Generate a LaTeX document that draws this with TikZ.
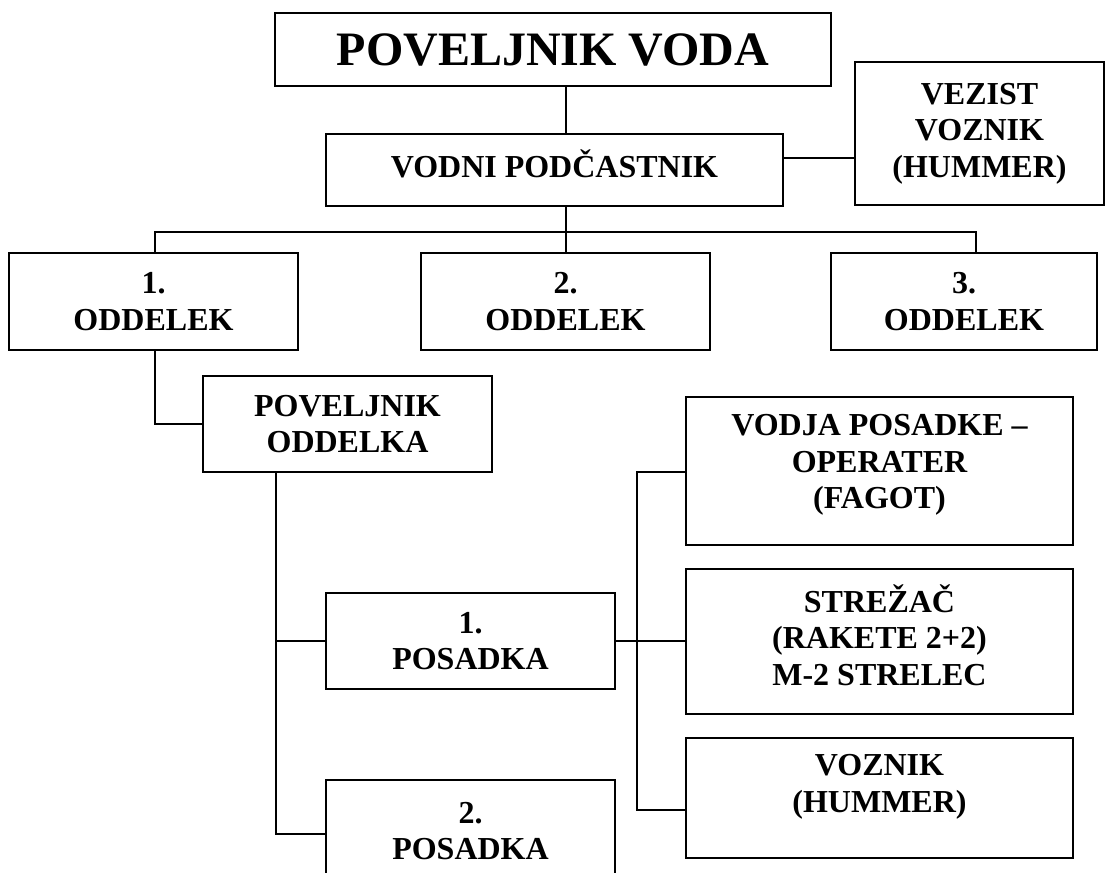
\documentclass[tikz,border=0pt]{standalone}
\usepackage{fontspec}
\setmainfont{Liberation Serif}
\begin{document}
\begin{tikzpicture}[x=1pt,y=-1pt,
  box/.style={draw, line width=1.9pt, inner sep=0pt, align=center,
    font=\bfseries\fontsize{32}{36.5}\selectfont},
  txt/.style={inner sep=0pt, align=center, font=\bfseries\fontsize{32}{36.5}\selectfont},
  conn/.style={line width=1.9pt}]
\useasboundingbox (0,0) rectangle (1109,873);
\clip (0,0) rectangle (1109,873);
% boxes
\node[box, minimum width=556pt, minimum height=73pt,
  font=\bfseries\fontsize{48}{54}\selectfont] (top) at (553,49.5) {POVELJNIK VODA};
\node[box, minimum width=457pt, minimum height=72pt] (vodni) at (554.5,170) {};
\node[txt] (vodnitxt) at (554.5,164) {VODNI PODČASTNIK};
\node[box, minimum width=249pt, minimum height=143pt] (vezist) at (979.5,133.5) {VEZIST\\VOZNIK\\(HUMMER)};
\node[box, minimum width=289pt, minimum height=97pt] (odd1) at (153.5,301.5) {1.\\ODDELEK};
\node[box, minimum width=289pt, minimum height=97pt] (odd2) at (565.5,301.5) {2.\\ODDELEK};
\node[box, minimum width=266pt, minimum height=97pt] (odd3) at (964,301.5) {3.\\ODDELEK};
\node[box, minimum width=289pt, minimum height=96pt] (povodd) at (347.5,424) {POVELJNIK\\ODDELKA};
\node[box, minimum width=289pt, minimum height=96pt] (pos1) at (470.5,641) {1.\\POSADKA};
\node[box, minimum width=289pt, minimum height=96pt] (pos2) at (470.5,828) {};
\node[txt] (pos2txt) at (470.5,831) {2.\\POSADKA};
\node[box, minimum width=387pt, minimum height=148pt] (vodja) at (879.5,471) {};
\node[txt] (vodjatxt) at (879.5,465) {VODJA POSADKE –\\OPERATER\\(FAGOT)};
\node[box, minimum width=387pt, minimum height=145pt] (strezac) at (879.5,641.5) {};
\node[txt] (strezactxt) at (879.5,635) {STREŽAČ\\(RAKETE 2+2)\\M-2 STRELEC};
\node[box, minimum width=387pt, minimum height=120pt] (voznik) at (879.5,798) {};
\node[txt] (vozniktxt) at (879.5,787) {VOZNIK\\(HUMMER)};
% connector helper points
\coordinate (sp) at (566,232);
\coordinate (bl) at (155,232);
\coordinate (br) at (976,232);
\coordinate (vl) at (820,158);
\coordinate (k1) at (155,424);
\coordinate (k2) at (276,834);
\coordinate (k3) at (276,641);
\coordinate (cb1) at (637,472);
\coordinate (cb2) at (637,810);
% connectors
\draw[conn] (top.south -| sp) -- (vodni.north -| sp);
\draw[conn] (vodni.south -| sp) -- (sp);
\draw[conn] (odd1.north -| bl) -- (bl) -- (br) -- (odd3.north -| br);
\draw[conn] (sp) -- (odd2.north -| sp);
\draw[conn] (vodni.east |- vl) -- (vezist.west |- vl);
\draw[conn] (odd1.south -| k1) -- (k1) -- (povodd.west |- k1);
\draw[conn] (povodd.south -| k2) -- (k2) -- (pos2.west |- k2);
\draw[conn] (k3) -- (pos1.west |- k3);
\draw[conn] (vodja.west |- cb1) -- (cb1) -- (cb2) -- (voznik.west |- cb2);
\draw[conn] (pos1.east) -- (strezac.west |- pos1.east);
\end{tikzpicture}
\end{document}
